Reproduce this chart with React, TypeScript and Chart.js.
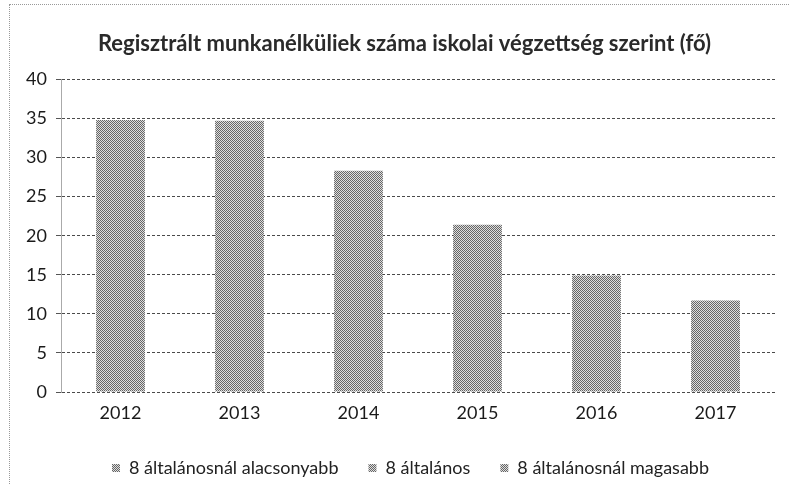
import React, { useEffect, useRef } from 'react';
import { Chart, registerables } from 'chart.js';
Chart.register(...registerables);

const years = ['2012', '2013', '2014', '2015', '2016', '2017'];
const belowEight = [34.8, 34.7, 28.3, 21.4, 14.9, 11.7];
const eightGrades = [0, 0, 0, 0, 0, 0];
const aboveEight = [0, 0, 0, 0, 0, 0];
const seriesNames = ['8 általánosnál alacsonyabb', '8 általános', '8 általánosnál magasabb'];
const titleText = 'Regisztrált munkanélküliek száma iskolai végzettség szerint (fő)';
const yMax = 40;
const yStep = 5;

const FONT = 'Lato, "Open Sans", sans-serif';

function makePattern(): CanvasPattern | string {
  const c = document.createElement('canvas');
  c.width = 2;
  c.height = 2;
  const ctx = c.getContext('2d');
  if (!ctx) return '#a3a3a3';
  ctx.fillStyle = '#dedede';
  ctx.fillRect(0, 0, 2, 2);
  ctx.fillStyle = '#666666';
  ctx.fillRect(0, 0, 1, 1);
  ctx.fillRect(1, 1, 1, 1);
  const p = ctx.createPattern(c, 'repeat');
  return p || '#a3a3a3';
}

const legendPatch = {
  id: 'legendPatch',
  beforeLayout: (chart: any) => {
    const lg = chart.legend;
    if (lg && !lg._patched) {
      const f = lg.fit;
      lg.fit = function (this: any) {
        f.call(this);
        this.height = 56;
        this.minSize = { width: this.width, height: 56 };
      };
      lg._patched = true;
    }
  },
  afterLayout: (chart: any) => {
    const lg = chart.legend;
    if (lg) lg.left += 46;
    const tb = chart.titleBlock;
    if (tb) tb.left += 34;
  },
};

export default function App() {
  const ref = useRef<HTMLCanvasElement | null>(null);
  useEffect(() => {
    if (!ref.current) return;
    const pat = makePattern();
    const chart = new Chart(ref.current, {
      type: 'bar',
      data: {
        labels: years,
        datasets: [belowEight, eightGrades, aboveEight].map((d, i) => ({
          label: seriesNames[i],
          data: d,
          backgroundColor: pat as any,
          borderWidth: 0,
          categoryPercentage: 0.82,
          barPercentage: 0.5,
        })),
      },
      options: {
        animation: false,
        responsive: false,
        maintainAspectRatio: false,
        layout: { padding: { left: 0, right: 15, top: 0, bottom: 0 } },
        plugins: {
          title: {
            display: true,
            text: titleText,
            color: '#2a2a2a',
            font: { family: FONT, size: 22, weight: 'bold' },
            padding: { top: 31, bottom: 22 },
          },
          legend: {
            position: 'bottom',
            labels: {
              color: '#222222',
              font: { family: FONT, size: 18 },
              boxWidth: 8,
              boxHeight: 8,
              padding: 30,
            },
          },
          tooltip: { enabled: false },
        },
        scales: {
          x: {
            stacked: true,
            afterFit: (s: any) => { s.height = 37; },
            grid: { display: false, drawTicks: false },
            border: { display: false },
            ticks: { color: '#1a1a1a', font: { family: FONT, size: 18 }, padding: 10 },
          },
          y: {
            stacked: true,
            min: 0,
            max: yMax,
            afterFit: (s: any) => { s.width = 61; },
            ticks: { stepSize: yStep, color: '#1a1a1a', font: { family: FONT, size: 18 }, padding: 9 },
            grid: { color: '#4a4a4a', tickLength: 5, tickColor: '#555555' },
            border: { display: true, color: '#aaaaaa', dash: [3, 2] },
          },
        },
      },
      plugins: [legendPatch],
    } as any);
    return () => chart.destroy();
  }, []);
  return (
    <div
      style={{
        position: 'fixed',
        left: 0,
        top: 0,
        width: 790,
        height: 485,
        background: '#ffffff',
      }}
    >
      <div
        style={{
          position: 'absolute',
          left: 9,
          top: 4,
          width: 781,
          height: 481,
          borderLeft: '1px dotted #999',
          borderTop: '1px dotted #999',
        }}
      />
      <canvas ref={ref} width={790} height={485} style={{ position: 'absolute', left: 0, top: 0 }} />
    </div>
  );
}
